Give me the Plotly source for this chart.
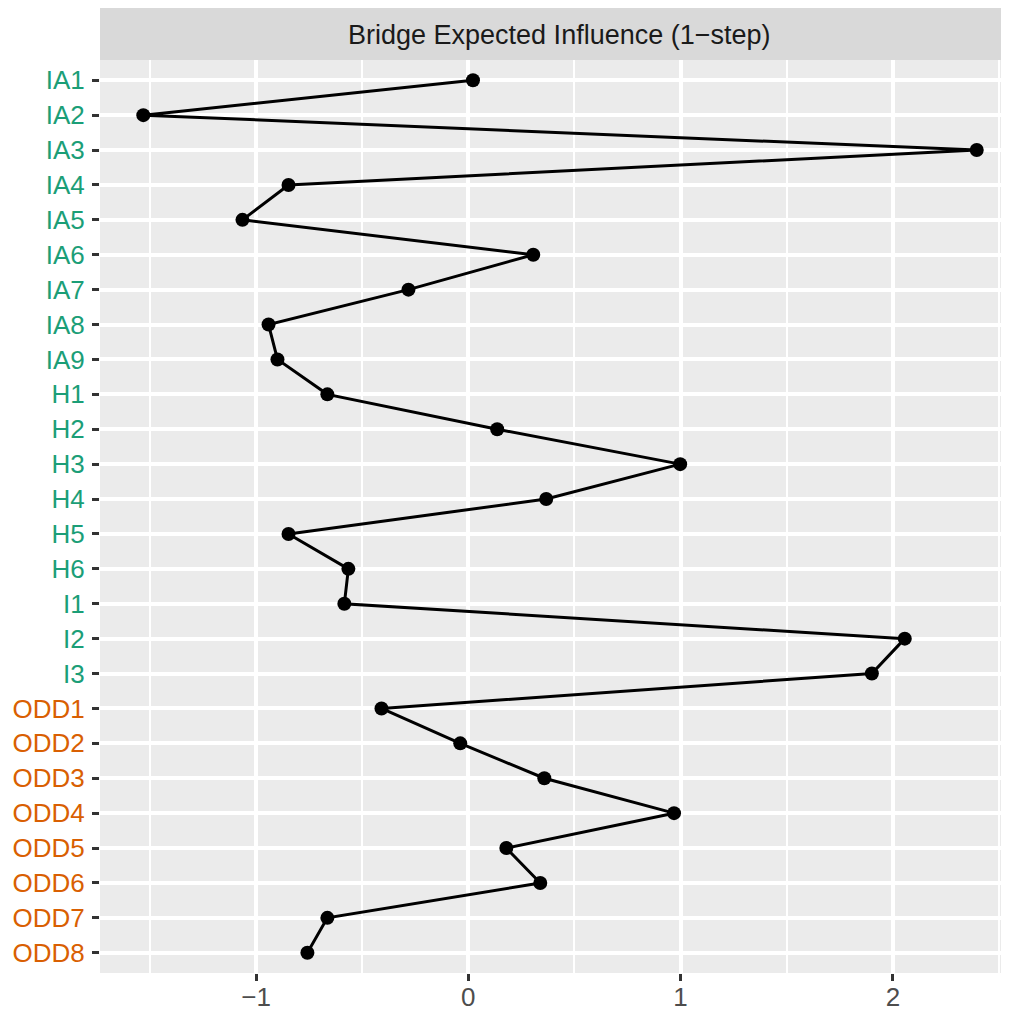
import plotly.graph_objects as go

categories = ["IA1","IA2","IA3","IA4","IA5","IA6","IA7","IA8","IA9",
              "H1","H2","H3","H4","H5","H6","I1","I2","I3",
              "ODD1","ODD2","ODD3","ODD4","ODD5","ODD6","ODD7","ODD8"]
values = [0.022, -1.531, 2.395, -0.847, -1.064, 0.306, -0.282, -0.941, -0.899,
          -0.664, 0.136, 0.998, 0.367, -0.847, -0.565, -0.584, 2.056, 1.901,
          -0.409, -0.038, 0.358, 0.969, 0.179, 0.339, -0.664, -0.758]
groups = ["A"]*18 + ["B"]*8
group_colors = {"A": "#1B9E77", "B": "#D95F02"}
x_ticks = [-1, 0, 1, 2]
x_ticklabels = ["\u22121", "0", "1", "2"]
title_text = "Bridge Expected Influence (1\u2212step)"

ticktext = [f'<span style="color:{group_colors[g]}">{c}</span>' for c, g in zip(categories, groups)]

fig = go.Figure()
fig.add_trace(go.Scatter(
    x=values, y=categories, mode="lines+markers",
    line=dict(color="black", width=3),
    marker=dict(color="black", size=14),
    showlegend=False, cliponaxis=False,
))

W, H = 1001, 1003
ML, MR, MT, MB = 92, 0, 52, 38
panel_h = H - MT - MB
fig.update_layout(
    width=W, height=H,
    margin=dict(l=ML, r=MR, t=MT, b=MB, autoexpand=False),
    paper_bgcolor="white", plot_bgcolor="#EBEBEB",
    font=dict(family="Liberation Sans, Arial, sans-serif", size=26, color="#4D4D4D"),
    xaxis=dict(
        range=[-1.735, 2.547], tickvals=x_ticks, ticktext=x_ticklabels,
        showgrid=True, gridcolor="white", gridwidth=3.5, zeroline=False,
        ticks="outside", ticklen=7, tickwidth=3, tickcolor="#333333",
        tickfont=dict(size=26, color="#4D4D4D"), ticklabelstandoff=-6,
        minor=dict(tickvals=[-1.5, -0.5, 0.5, 1.5, 2.5], showgrid=True,
                   gridcolor="white", gridwidth=1.8, ticks=""),
        showline=False, automargin=False,
    ),
    yaxis=dict(
        type="category", categoryorder="array", categoryarray=categories,
        range=[25.58, -0.58], tickvals=categories, ticktext=ticktext,
        showgrid=True, gridcolor="white", gridwidth=3.5, zeroline=False,
        ticks="outside", ticklen=7, tickwidth=3, tickcolor="#333333",
        tickfont=dict(size=26), ticklabelstandoff=2,
        showline=False, automargin=False,
    ),
)

strip_h = MT / panel_h
fig.add_shape(type="rect", xref="paper", yref="paper", x0=0, x1=1, y0=1, y1=1 + strip_h,
              fillcolor="#D9D9D9", line=dict(width=0), layer="below")
fig.add_annotation(text=title_text, xref="paper", yref="paper", x=0.505,
                   y=1 + (MT - 2) / 2 / panel_h,
                   showarrow=False, xanchor="center", yanchor="middle",
                   font=dict(size=27, color="#1A1A1A"))

fig.write_html("out.html")
